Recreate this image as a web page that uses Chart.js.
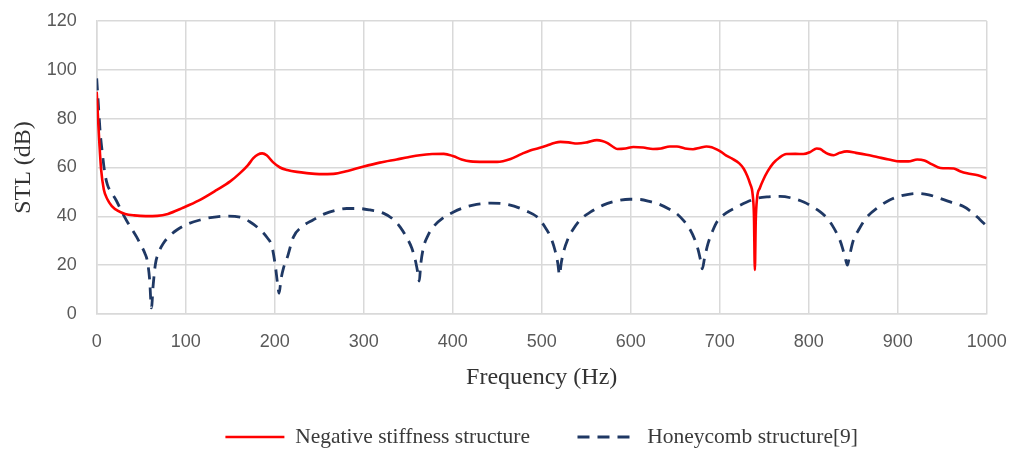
<!DOCTYPE html>
<html>
<head>
<meta charset="utf-8">
<script src="https://cdn.jsdelivr.net/npm/chart.js@4"></script>
<style>
  html, body { margin: 0; padding: 0; background: #fff; }
  #wrap { width: 1009px; height: 450px; }
</style>
</head>
<body>
<div id="wrap"><canvas id="stlChart"></canvas></div>
<script>
// Negative stiffness structure
const nsFreq = [0, 1.5, 3, 5, 8, 12, 17, 24, 32, 42, 55, 68, 80, 97, 115, 135, 150, 161, 170, 176, 181, 186, 191, 198, 206, 214, 225, 236, 250, 266, 282, 299, 318, 337, 350, 363, 377, 390, 401, 410, 420, 435, 450, 465, 477, 487, 497, 506, 514, 521, 530, 540, 551, 562, 568, 574, 580, 585, 594, 603, 614, 625, 634, 644, 652, 661, 670, 678, 685, 691, 696, 702, 707, 714, 722, 727, 731, 734, 737, 738.5, 739.5, 740.5, 742, 745, 749, 754, 760, 767, 775, 785, 794, 802, 809, 813, 816, 822, 828, 835, 843, 853, 865, 878, 890, 903, 912, 922, 930, 938, 948, 956, 963, 970, 978, 990, 1000];
const nsSTL = [91, 80, 70, 59, 51, 47, 44.2, 42.2, 41, 40.4, 40.1, 40.2, 41, 43.5, 46.5, 50.8, 54.3, 57.7, 61, 63.8, 65.3, 65.8, 65, 62.2, 60, 59, 58.2, 57.7, 57.3, 57.4, 58.6, 60.3, 62, 63.3, 64.2, 65, 65.5, 65.6, 64.6, 63.3, 62.5, 62.3, 62.3, 63.5, 65.5, 67, 68, 69, 70, 70.5, 70.3, 69.8, 70.3, 71.2, 70.9, 70, 68.5, 67.6, 67.8, 68.4, 68.2, 67.6, 67.8, 68.6, 68.6, 67.8, 67.5, 68.1, 68.6, 68.3, 67.5, 66.3, 65, 63.6, 61.7, 59.5, 56.5, 53.5, 49, 40, 18, 38, 47.5, 51.5, 55, 58.5, 61.7, 64, 65.5, 65.6, 65.5, 66.4, 67.8, 67.6, 66.8, 65.5, 65, 66, 66.6, 66, 65.2, 64.2, 63.3, 62.5, 62.5, 63.3, 62.9, 61.4, 59.8, 59.7, 59.6, 58.5, 57.6, 56.8, 55.6];

// Honeycomb structure[9]
const hcFreq = [0, 2, 4, 6, 9, 12, 17, 22, 28, 34, 40, 45, 50, 54, 57, 59.5, 61.5, 63.5, 66, 70, 75, 82, 90, 100, 116, 130, 146, 161, 172, 184, 191, 197, 201, 203, 205, 207, 210, 214, 221, 231, 243, 256, 270, 281, 294, 307, 322, 333, 341, 348, 354, 358, 361, 362.5, 364, 367, 372, 378, 389, 401, 412, 423, 434, 443, 456, 469, 482, 495, 503, 510, 515, 518, 520, 522, 525, 529, 535, 543, 555, 569, 584, 599, 611, 622, 633, 643, 652, 660, 667, 672, 676, 678.5, 680.5, 683, 687, 692, 697, 707, 719, 730, 742, 755, 768, 783, 795, 805, 813, 820, 827, 835, 838, 841, 843.5, 846, 850, 857, 865, 878, 891, 906, 922, 935, 948, 962, 974, 984, 992, 1000];
const hcSTL = [96.5, 85, 74, 67, 58, 53, 49.5, 46.5, 42, 38, 34.5, 31.5, 28, 25, 21.5, 14, 2.5, 12, 20.5, 25.5, 29, 32, 34.4, 36.5, 38.5, 39.6, 40.1, 39.7, 37.8, 34.4, 31.5, 27.5, 19, 13, 8.5, 14, 19, 23, 31.5, 35.8, 38.5, 41, 42.6, 43.2, 43.2, 42.6, 41.3, 38.8, 35.6, 31.5, 27, 22, 16.5, 13.5, 20, 27, 32, 35.6, 39.3, 41.8, 43.5, 44.6, 45.2, 45.4, 45.2, 44.2, 42.3, 39.7, 36, 31.5, 26, 21, 16, 21, 26, 30.3, 34.5, 38.5, 41.8, 44.6, 46.3, 47, 46.9, 46, 44.8, 43, 41, 38, 34.4, 30.5, 26, 22, 18.5, 23, 29, 34, 37.8, 41.3, 43.8, 45.8, 47.4, 48, 48.2, 47.3, 45.8, 43.8, 41.8, 39.5, 36, 30.3, 27, 23, 20, 24, 30, 35, 39.5, 43.7, 46.7, 48.6, 49.4, 48.8, 47.3, 45.5, 44, 41.5, 38.8, 36];

const xTicks = [0, 100, 200, 300, 400, 500, 600, 700, 800, 900, 1000];
const yTicks = [0, 20, 40, 60, 80, 100, 120];

const toPoints = (xs, ys) => xs.map((x, i) => ({ x: x, y: ys[i] }));

const serif = "'Liberation Serif', 'Times New Roman', serif";
const sans = "'Liberation Sans', Arial, sans-serif";
const gridColor = '#d9d9d9';

const ctx = document.getElementById('stlChart').getContext('2d');

new Chart(ctx, {
    type: 'line',
    data: {
        datasets: [
            {
                label: 'Negative stiffness structure',
                data: toPoints(nsFreq, nsSTL),
                borderColor: '#ff0000',
                backgroundColor: '#ff0000',
                borderWidth: 2.6,
                pointRadius: 0,
                cubicInterpolationMode: 'monotone',
                fill: false
            },
            {
                label: 'Honeycomb structure[9]',
                data: toPoints(hcFreq, hcSTL),
                borderColor: '#1f3864',
                backgroundColor: '#1f3864',
                borderWidth: 2.8,
                borderDash: [12, 8],
                pointRadius: 0,
                cubicInterpolationMode: 'monotone',
                fill: false
            }
        ]
    },
    options: {
        responsive: true,
        maintainAspectRatio: false,
        animation: false,
        layout: {
            padding: { top: 21, right: 22.3, left: 0, bottom: -7.75 }
        },
        plugins: {
            tooltip: { enabled: false },
            legend: {
                position: 'bottom',
                fullSize: false,
                labels: {
                    usePointStyle: true,
                    pointStyle: 'line',
                    pointStyleWidth: 59,
                    padding: 47.5,
                    color: '#3a3a3a',
                    font: { family: serif, size: 21.5 },
                    // keep the dash of each dataset in its legend line
                    generateLabels: (chart) => {
                        const items = Chart.defaults.plugins.legend.labels.generateLabels(chart);
                        items.forEach(item => {
                            const ds = chart.data.datasets[item.datasetIndex];
                            item.lineDash = ds.borderDash || [];
                            item.strokeStyle = ds.borderColor;
                            item.lineWidth = ds.borderWidth;
                        });
                        return items;
                    }
                }
            }
        },
        scales: {
            x: {
                type: 'linear',
                min: 0,
                max: 1000,
                afterBuildTicks: (scale) => { scale.ticks = xTicks.map(v => ({ value: v })); },
                afterFit: (scale) => {
                    scale.height = 64.75;
                    scale.paddingLeft = 0;
                    scale.paddingRight = 0;
                },
                grid: { color: gridColor, lineWidth: 1.5, drawTicks: false },
                border: { color: gridColor, width: 1.5 },
                ticks: {
                    padding: 17,
                    color: '#595959',
                    font: { family: sans, size: 18 },
                    maxRotation: 0,
                    callback: (value) => String(value)
                },
                title: {
                    display: true,
                    text: 'Frequency (Hz)',
                    color: '#333333',
                    font: { family: serif, size: 24 },
                    padding: { top: 0, bottom: -13.65 }
                }
            },
            y: {
                min: 0,
                max: 120,
                afterBuildTicks: (scale) => { scale.ticks = yTicks.map(v => ({ value: v })); },
                afterFit: (scale) => {
                    scale.width = 96.7;
                    scale.paddingTop = 0;
                    scale.paddingBottom = 0;
                },
                grid: { color: gridColor, lineWidth: 1.5, drawTicks: false },
                border: { color: gridColor, width: 1.5 },
                ticks: {
                    padding: 20,
                    color: '#595959',
                    font: { family: sans, size: 18 },
                    callback: (value) => String(value)
                },
                title: {
                    display: true,
                    text: 'STL (dB)',
                    color: '#333333',
                    font: { family: serif, size: 24 },
                    padding: { top: 9, bottom: 0 }
                }
            }
        }
    }
});
</script>
</body>
</html>
